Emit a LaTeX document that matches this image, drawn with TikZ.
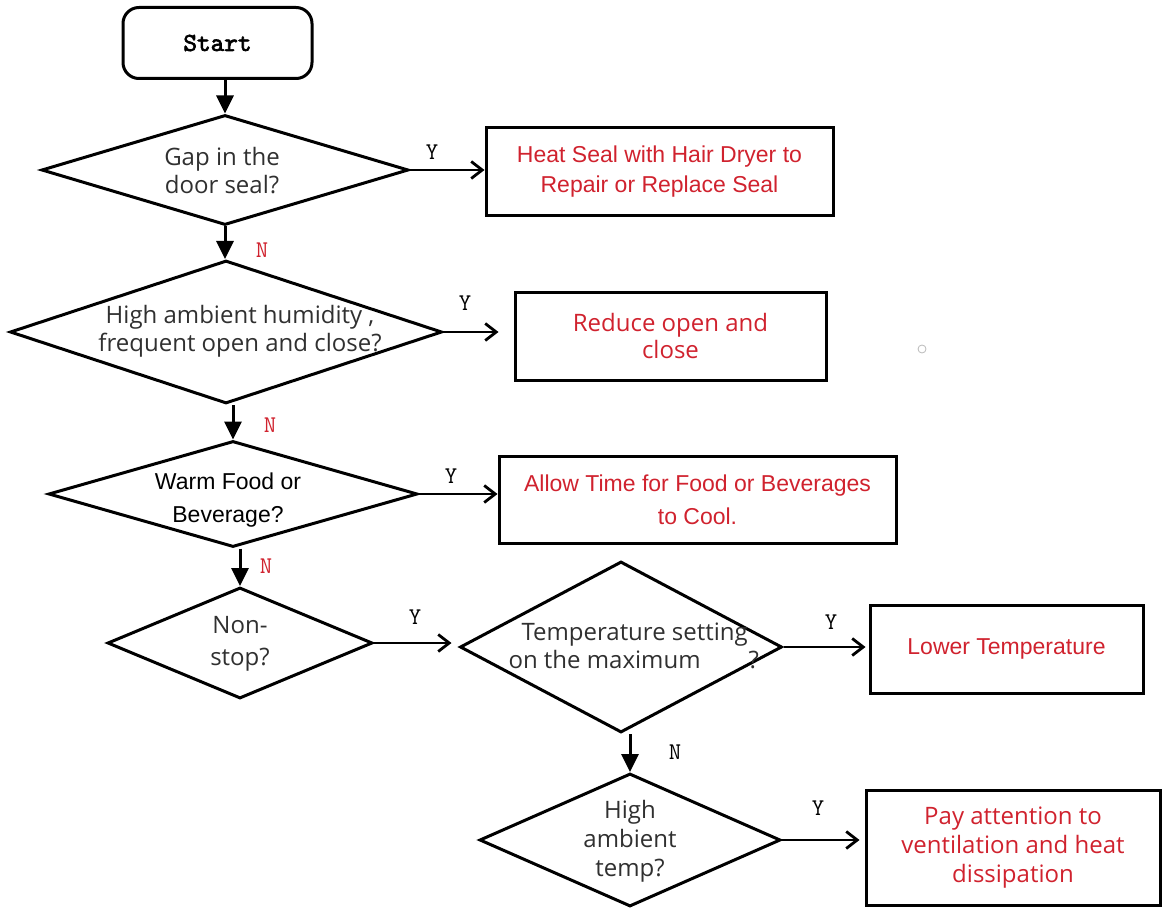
\documentclass[tikz,border=0pt]{standalone}
\usepackage{fontspec}
\setmainfont{Liberation Sans}
\newfontfamily\segfont{Open Sans}
\newfontfamily\startfont{lmmono10-regular.otf}[AutoFakeBold=2.5]
\definecolor{actred}{RGB}{208,34,46}
\definecolor{qgray}{RGB}{48,48,48}
\usetikzlibrary{shapes.geometric,arrows.meta}

\begin{document}
\begin{tikzpicture}[x=1pt,y=-1pt,
  startbox/.style={draw, line width=3pt, rounded corners=16pt, inner sep=0pt,
    minimum width=189pt, minimum height=71pt,
    font=\startfont\bfseries\fontsize{26}{26}\selectfont},
  decision/.style={diamond, draw, line width=3pt, inner sep=0pt},
  actbox/.style={draw, line width=3pt, inner sep=0pt, align=center, text=actred},
  qseg/.style={align=center, text=qgray, font=\segfont\fontsize{24}{28}\selectfont},
  qarial/.style={align=center, text=black, font=\fontsize{23}{33}\selectfont},
  vflow/.style={line width=3pt, -{Triangle[length=18pt,width=17pt]}},
  hflow/.style={line width=2.8pt, -{Straight Barb[length=11pt,width=17pt]}},
  ylab/.style={font=\ttfamily\fontsize{24}{24}\selectfont},
  nlab/.style={ylab, text=actred}
]
\useasboundingbox (0,0) rectangle (1164,909);

% start
\node[startbox] (start) at (217.5,43) {Start};

% decisions
\node[decision, minimum width=367pt, minimum height=110pt] (d1) at (225,170) {};
\node[qseg] (d1t) at (222,171) {Gap in the\\door seal?};

\node[decision, minimum width=432pt, minimum height=143pt] (d2) at (226,332) {};
\node[qseg] (d2t) at (240,331) {High ambient humidity ,\\frequent open and close?};

\node[decision, minimum width=369pt, minimum height=106pt] (d3) at (233,494) {};
\node[qarial] (d3t) at (228,500) {Warm Food or\\Beverage?};

\node[decision, minimum width=265pt, minimum height=111pt] (d4) at (240,643) {};
\node[qseg, font=\segfont\fontsize{24}{32}\selectfont] (d4t) at (240,644) {Non-\\stop?};

\node[decision, minimum width=322pt, minimum height=171pt] (d5) at (621,647) {};
\node[qseg, align=left, anchor=west] (d5t) at (505,646)
  {\hspace*{13pt}Temperature setting\\on the maximum\hspace{48pt}?};

\node[decision, minimum width=301pt, minimum height=133pt] (d6) at (630,840) {};
\node[qseg, font=\segfont\fontsize{24}{29}\selectfont] (d6t) at (630,841) {High\\ambient\\temp?};

% actions
\node[actbox, minimum width=347pt, minimum height=88pt,
  font=\fontsize{23}{30}\selectfont] (b1) at (659.5,172)
  {Heat Seal with Hair Dryer to\\Repair or Replace Seal};
\node[actbox, minimum width=311pt, minimum height=88pt,
  font=\segfont\fontsize{24}{27}\selectfont] (b2) at (670.5,336)
  {Reduce open and\\close};
\node[actbox, minimum width=397pt, minimum height=87pt,
  font=\fontsize{23}{33}\selectfont] (b3) at (697.5,499.5)
  {Allow Time for Food or Beverages\\to Cool.};
\node[actbox, minimum width=273pt, minimum height=88pt,
  font=\fontsize{23}{30}\selectfont] (b4) at (1006.5,649)
  {Lower Temperature};
\node[actbox, minimum width=294pt, minimum height=115pt,
  font=\segfont\fontsize{24}{29}\selectfont] (b5) at (1013,847.5)
  {Pay attention to\\ventilation and heat\\dissipation};

% small mark beside the second action
\node[circle, draw=gray!55, line width=0.8pt, minimum size=8pt, inner sep=0pt] (dot) at (922,349) {};

% downward flow (N)
\draw[vflow] (start.south -| d1.north) -- (d1.north);
\draw[vflow] (d1.south) -- (d1.south |- d2.north);
\draw[vflow] (d2.south -| d3.north) -- (d3.north);
\draw[vflow] (d3.south -| d4.north) -- (d4.north);
\draw[vflow] (d5.south -| d6.north) -- (d6.north);

% sideways flow (Y)
\draw[hflow] (d1.east) -- (b1.west |- d1.east);
\draw[hflow, shorten >=15pt] (d2.east) -- (b2.west |- d2.east);
\draw[hflow] (d3.east) -- (b3.west |- d3.east);
\draw[hflow, shorten >=7pt] (d4.east) -- (d4.east -| d5.west);
\draw[hflow, shorten >=3pt] (d5.east) -- (b4.west |- d5.east);
\draw[hflow, shorten >=5pt] (d6.east) -- (b5.west |- d6.east);

% branch labels
\node[ylab] (y1) at (432,152) {Y};
\node[ylab] (y2) at (465,303) {Y};
\node[ylab] (y3) at (451,476) {Y};
\node[ylab] (y4) at (415,617) {Y};
\node[ylab] (y5) at (831,622) {Y};
\node[ylab] (y6) at (818,808) {Y};
\node[nlab] (n1) at (262,250) {N};
\node[nlab] (n2) at (270,425) {N};
\node[nlab] (n3) at (266,566) {N};
\node[ylab] (n4) at (675,752) {N};
\end{tikzpicture}
\end{document}
